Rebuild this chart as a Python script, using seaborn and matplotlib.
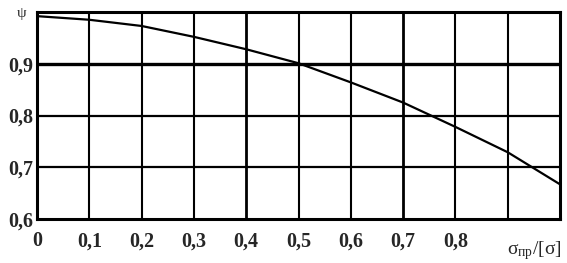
import matplotlib
matplotlib.use("Agg")
import matplotlib.pyplot as plt
import matplotlib.transforms as mtransforms
import seaborn as sns
import pandas as pd

# data
ratio = [0.0, 0.1, 0.2, 0.3, 0.4, 0.5, 0.6, 0.7, 0.8, 0.9, 1.0]
psi = [0.992, 0.985, 0.973, 0.952, 0.928, 0.901, 0.864, 0.825, 0.778, 0.729, 0.667]
x_ticks = [0.0, 0.1, 0.2, 0.3, 0.4, 0.5, 0.6, 0.7, 0.8]
x_tick_labels = ["0", "0,1", "0,2", "0,3", "0,4", "0,5", "0,6", "0,7", "0,8"]
y_ticks = [0.6, 0.7, 0.8, 0.9, 1.0]
y_tick_labels = ["0,6", "0,7", "0,8", "0,9", "ψ"]
x_grid = [0.1, 0.2, 0.3, 0.4, 0.5, 0.6, 0.7, 0.8, 0.9]
y_grid = [0.7, 0.8, 0.9]

sns.set_style("white")
plt.rcParams["font.family"] = ["Liberation Serif", "DejaVu Serif"]
plt.rcParams["mathtext.fontset"] = "custom"
plt.rcParams["mathtext.rm"] = "Liberation Serif"
plt.rcParams["mathtext.it"] = "Liberation Serif"

fig = plt.figure(figsize=(5.67, 2.63), dpi=100)
ax = fig.add_axes([37 / 567, 1 - 219 / 263, (560 - 37) / 567, (219 - 12) / 263])

for gx in x_grid:
    lw = 2.0 if gx in (0.4, 0.7) else 1.5
    ax.axvline(gx, color="black", lw=lw, zorder=1)
for gy in y_grid:
    lw = 2.4 if gy == 0.9 else 1.6
    ax.axhline(gy, color="black", lw=lw, zorder=1)

df = pd.DataFrame({"ratio": ratio, "psi": psi})
sns.lineplot(data=df, x="ratio", y="psi", ax=ax, color="black", lw=1.6, zorder=3)

ax.set_xlim(0, 1.0)
ax.set_ylim(0.6, 1.0)
ax.set_xticks(x_ticks)
ax.set_xticklabels(x_tick_labels)
ax.set_yticks(y_ticks)
ax.set_yticklabels(y_tick_labels)
ax.tick_params(length=0, labelsize=14.5)
ax.tick_params(axis="x", pad=9)
ax.tick_params(axis="y", pad=3)
for lab in ax.get_xticklabels() + ax.get_yticklabels():
    lab.set_fontweight("bold")
ylabs = ax.get_yticklabels()
ylabs[-1].set_fontsize(11)
ylabs[-1].set_fontweight("normal")
ylabs[-1].set_x(-0.012)
ax.set_xlabel("")
ax.set_ylabel("")

for s in ax.spines.values():
    s.set_color("black")
    s.set_linewidth(2.2)
    s.set_visible(True)

trans = mtransforms.blended_transform_factory(ax.transData, ax.transAxes)
ax.text(0.95, -0.095, "σ$_{\\mathrm{пр}}$/[σ]", transform=trans,
        ha="center", va="top", fontsize=14)

fig.savefig("out.png", dpi=100)
